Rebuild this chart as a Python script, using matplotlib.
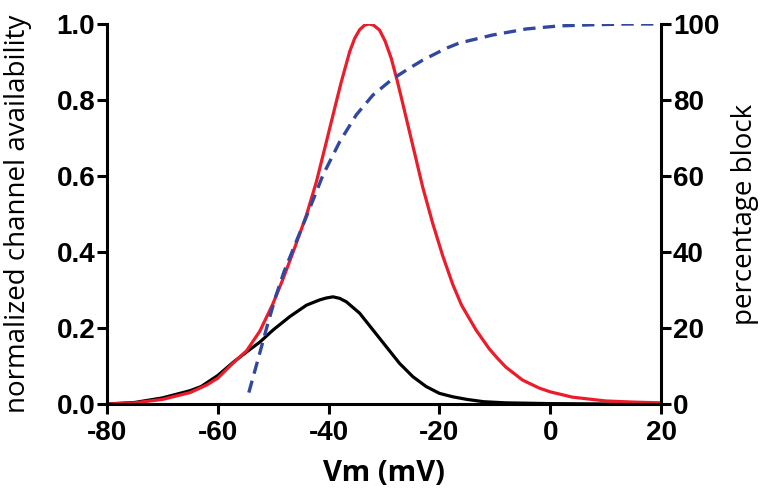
import matplotlib
matplotlib.use("Agg")
from matplotlib import pyplot as plt

# red curve: normalized channel availability
v_red = [-80, -75, -70, -65, -62, -60, -57.3, -54.8, -52.4, -50.1, -48.2, -46.4, -44, -42.2,
         -40.4, -38.6, -37.7, -36.2, -35.3, -34.4, -33.5, -32.7, -31.9, -30.8, -29.8, -28.7,
         -27.6, -26.6, -24.8, -23, -21.2, -19.4, -17.6, -16, -13.4, -11, -9.5, -8, -5, -2, 0,
         4, 10, 15, 20]
y_red = [0.0, 0.003, 0.012, 0.03, 0.05, 0.068, 0.107, 0.14, 0.192, 0.262, 0.33, 0.40, 0.497, 0.585,
         0.69, 0.796, 0.848, 0.927, 0.962, 0.985, 0.997, 1.0, 0.997, 0.984, 0.955, 0.91,
         0.85, 0.79, 0.68, 0.57, 0.475, 0.39, 0.315, 0.26, 0.195, 0.145, 0.12, 0.097, 0.063, 0.042, 0.032,
         0.018, 0.008, 0.005, 0.003]

# black curve
v_blk = [-80, -75, -70, -65, -63, -60, -57.2, -54.8, -52.4, -50, -47, -44, -41.6, -40.4, -39.2,
         -38, -36.8, -34.4, -32, -29.6, -27.2, -24.8, -22.4, -20, -17.6, -15, -12, -8, 0, 10, 20]
y_blk = [0.0, 0.004, 0.016, 0.035, 0.046, 0.075, 0.11, 0.137, 0.163, 0.195, 0.23, 0.26, 0.274, 0.279, 0.282,
         0.278, 0.269, 0.239, 0.195, 0.151, 0.107, 0.072, 0.046, 0.028, 0.019, 0.012, 0.006, 0.003, 0.001, 0.0, 0.0]

# blue dashed curve: percentage block (right axis)
v_blu = [-54.4, -52.5, -51, -49.5, -48, -46.1, -43.4, -41, -38, -35, -32, -28.5, -25.5, -23,
         -18.8, -16.4, -10.4, -4.3, 1.6, 7.6, 14, 20]
p_blu = [3.0, 13, 21, 28.5, 35, 41.8, 51.5, 60.3, 69, 76.1, 81.3, 85.5, 88.3, 90.5,
         93.6, 95.0, 97.1, 98.7, 99.5, 99.8, 100, 100]

x_ticks = [-80, -60, -40, -20, 0, 20]
y_ticks = [0.0, 0.2, 0.4, 0.6, 0.8, 1.0]
p_ticks = [0, 20, 40, 60, 80, 100]

tick_font = {"family": "Liberation Sans", "weight": "bold", "size": 20}

fig = plt.figure(figsize=(7.68, 4.96), dpi=100)
ax = fig.add_axes([0.1393, 0.1855, 0.7214, 0.7661])

ax.plot(v_blk, y_blk, color="black", lw=2.3, solid_capstyle="butt")
ax.plot(v_red, y_red, color="#ec1c2a", lw=2.3, solid_capstyle="butt")

ax.set_xlim(-80, 20)
ax.set_ylim(0, 1.0)
ax.set_xticks(x_ticks)
ax.set_yticks(y_ticks)
ax.set_xticklabels([str(t) for t in x_ticks], fontdict=tick_font)
ax.set_yticklabels([f"{t:.1f}" for t in y_ticks], fontdict=tick_font)

ax2 = ax.twinx()
ax2.plot(v_blu, p_blu, color="#3248a0", lw=2.4, linestyle=(0, (3.7, 2.2)))
ax2.set_ylim(0, 100)
ax2.set_yticks(p_ticks)
ax2.set_yticklabels([str(t) for t in p_ticks], fontdict=tick_font)

for a in (ax, ax2):
    a.spines["top"].set_visible(False)
    for s in ("left", "right", "bottom"):
        a.spines[s].set_linewidth(2.2)
    a.tick_params(axis="y", direction="out", length=7.5, width=2.2, pad=1)
ax.tick_params(axis="x", direction="out", length=7.5, width=2.2, pad=4)
ax.spines["right"].set_visible(False)
ax2.spines["left"].set_visible(False)
ax2.spines["bottom"].set_visible(False)

ax.set_ylabel("normalized channel availability", family="Open Sans", fontsize=20)
ax.yaxis.set_label_coords(-0.135, 0.5)
ax2.set_ylabel("percentage block", family="Open Sans", fontsize=20)
ax2.yaxis.set_label_coords(1.127, 0.5)
ax.set_xlabel("Vm (mV)", family="Open Sans", fontsize=21, weight="bold")
ax.xaxis.set_label_coords(0.5, -0.145)

fig.savefig("out.png", dpi=100)
